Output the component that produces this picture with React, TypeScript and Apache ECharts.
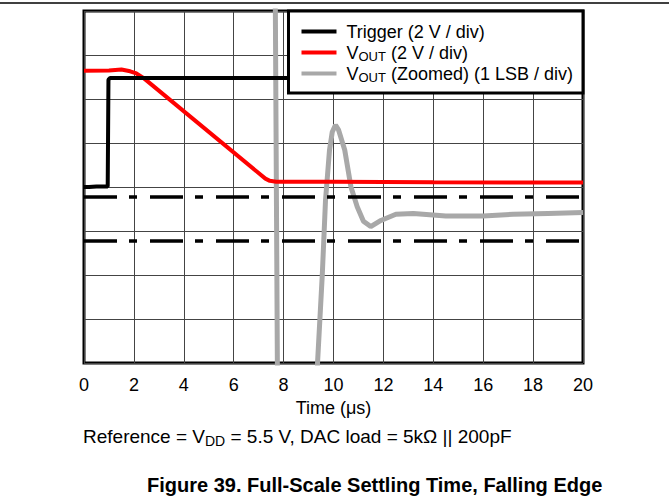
import React, { useEffect, useRef } from "react";
import * as echarts from "echarts";

// ---- data ----
const X_MIN = 0;
const X_MAX = 20;
const X_STEP = 2;
const Y_MIN = 0;
const Y_MAX = 8;

const seriesNames = ["Trigger (2 V / div)", "VOUT (2 V / div)", "VOUT (Zoomed) (1 LSB / div)"];
const seriesColors = ["#000000", "#ff0000", "#a8a8a8"];

// time (µs), level (div)
const triggerData: [number, number][] = [
  [0, 4.0], [0.2, 4.0], [0.5, 4.01], [0.95, 4.01], [0.98, 6.44], [1.05, 6.48], [20, 6.48],
];
const voutData: [number, number][] = [
  [0, 6.64], [1.0, 6.65], [1.5, 6.67], [1.85, 6.63], [2.1, 6.58], [2.38, 6.48],
  [7.27, 4.19], [7.45, 4.14], [7.7, 4.12], [10, 4.12], [14, 4.11], [20, 4.10],
];
const zoomedData: [number, number][] = [
  [0, 9], [7.6, 9], [7.67, 8], [7.75, 0], [7.78, -1], [9.3, -1], [9.36, 0],
  [9.55, 2.0], [9.68, 3.7], [9.84, 4.84], [9.95, 5.25], [10.08, 5.41], [10.2, 5.3],
  [10.45, 4.84], [10.7, 4.0], [10.95, 3.55], [11.2, 3.22], [11.49, 3.1], [11.9, 3.24],
  [12.5, 3.38], [13.2, 3.4], [14.5, 3.34], [16, 3.34], [17.2, 3.38], [18.6, 3.4], [20, 3.42],
];
const lsbBandLevels = [3.77, 2.77];

const xAxisTitle = "Time (μs)";
const footnote = "{n|Reference = V}{s|DD}{n| = 5.5 V, DAC load = 5kΩ || 200pF}";
const figureTitle = "Figure 39. Full-Scale Settling Time, Falling Edge";

const FONT = "'Liberation Sans', Arial, Helvetica, sans-serif";

export default function App() {
  const ref = useRef<HTMLDivElement>(null);

  useEffect(() => {
    document.body.style.margin = "0";
    if (!ref.current) return;
    const chart = echarts.init(ref.current, undefined, { renderer: "svg" });

    const mainSeries = [triggerData, voutData, zoomedData].map((d, i) => ({
      name: seriesNames[i],
      type: "line",
      data: d,
      showSymbol: false,
      symbol: "none",
      clip: true,
      color: seriesColors[i],
      lineStyle: { color: seriesColors[i], width: i === 2 ? 5 : 4 },
      z: i === 2 ? 2 : 4 - i,
    }));

    const bandSeries = lsbBandLevels.map((v, i) => ({
      name: "band" + i,
      type: "line",
      data: [[X_MIN, v], [X_MAX, v]],
      showSymbol: false,
      symbol: "none",
      color: "#000",
      lineStyle: { color: "#000", width: 3.5, type: [33, 12, 8, 13] },
      z: 5,
    }));

    chart.setOption({
      animation: false,
      grid: {
        left: 84,
        right: 86,
        top: 11,
        bottom: 137,
        show: true,
        borderColor: "#000",
        borderWidth: 3,
        backgroundColor: "transparent",
      },
      xAxis: {
        type: "value",
        min: X_MIN,
        max: X_MAX,
        interval: X_STEP,
        axisLine: { show: false },
        axisTick: { show: false },
        splitLine: { show: true, lineStyle: { color: "#444", width: 1 } },
        axisLabel: { fontFamily: FONT, fontSize: 18, color: "#000", margin: 13 },
        name: xAxisTitle,
        nameLocation: "middle",
        nameGap: 34,
        nameTextStyle: { fontFamily: FONT, fontSize: 18, color: "#000" },
      },
      yAxis: {
        type: "value",
        min: Y_MIN,
        max: Y_MAX,
        interval: 1,
        axisLine: { show: false },
        axisTick: { show: false },
        axisLabel: { show: false },
        splitLine: { show: true, lineStyle: { color: "#444", width: 1 } },
      },
      legend: {
        data: seriesNames,
        orient: "vertical",
        right: 86,
        top: 11,
        z: 10,
        itemWidth: 35,
        itemHeight: 4,
        icon: "rect",
        itemGap: 0,
        padding: [10, 10, 9, 13],
        borderWidth: 3,
        borderColor: "#000",
        backgroundColor: "#fff",
        selectedMode: false,
        formatter: (name: string) =>
          name.startsWith("VOUT")
            ? "{g| }{n|V}{s|OUT}{n|" + name.slice(4) + "}"
            : "{g| }{n|" + name + "}",
        textStyle: {
          fontFamily: FONT,
          fontSize: 18,
          color: "#000",
          lineHeight: 21,
          rich: {
            g: { width: 5, fontSize: 18, lineHeight: 21 },
            n: { fontFamily: FONT, fontSize: 18, color: "#000", lineHeight: 21 },
            s: { fontFamily: FONT, fontSize: 13, color: "#000", lineHeight: 11, verticalAlign: "bottom" },
          },
        },
      },
      graphic: [
        {
          type: "line",
          shape: { x1: 0, y1: 3, x2: 669, y2: 3 },
          style: { stroke: "#000", lineWidth: 1.5 },
        },
        {
          type: "text",
          left: 83,
          top: 427,
          style: {
            text: footnote,
            fontFamily: FONT,
            fontSize: 19,
            fill: "#000",
            rich: {
              n: { fontFamily: FONT, fontSize: 19, fill: "#000", lineHeight: 22 },
              s: { fontFamily: FONT, fontSize: 14, fill: "#000", lineHeight: 12, verticalAlign: "bottom" },
            },
          },
        },
        {
          type: "text",
          left: 147,
          top: 475,
          style: {
            text: figureTitle,
            fontFamily: FONT,
            fontSize: 20,
            fontWeight: "bold",
            fill: "#000",
          },
        },
      ],
      series: [...mainSeries, ...bandSeries],
    });

    return () => chart.dispose();
  }, []);

  return <div ref={ref} style={{ width: 669, height: 500 }} />;
}
